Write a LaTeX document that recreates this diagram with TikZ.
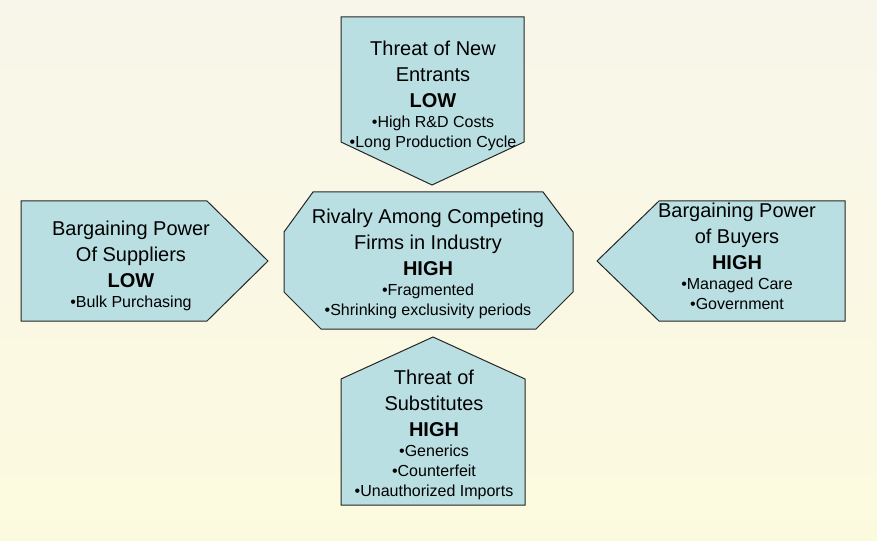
\documentclass[tikz,border=0pt]{standalone}
\usepackage{fontspec}
\setmainfont{Liberation Sans}
\usepackage{tikz}

\definecolor{forcefill}{RGB}{186,223,226}
\definecolor{paper}{RGB}{248,246,234}
\definecolor{paperlow}{RGB}{252,250,222}
\newcommand{\bulletline}[1]{{\fontsize{12}{15}\selectfont #1}}

\begin{document}
\begin{tikzpicture}[x=0.75pt,y=-0.75pt]
\tikzstyle{force}=[draw=black!85,fill=forcefill,line width=0.75pt]
\tikzstyle{forcetext}=[align=center,anchor=north,inner sep=0pt,font=\fontsize{15}{19.5}\selectfont]
\useasboundingbox (0,0) rectangle (877,541);
\shade[top color=paper,bottom color=paperlow] (0,0) rectangle (877,541);

% the five forces
\draw[force] (341,17) -- (524,17) -- (524,142) -- (432,185) -- (341,142) -- cycle;
\draw[force] (21,201) -- (207,201) -- (268,261) -- (207,321) -- (21,321) -- cycle;
\draw[force] (313,192) -- (543,192) -- (573,232) -- (573,292) -- (536,329) -- (321,329) -- (284,292) -- (284,232) -- cycle;
\draw[force] (597,261) -- (659,201) -- (845,201) -- (845,321) -- (659,321) -- cycle;
\draw[force] (433,337) -- (525,379) -- (525,505) -- (341,505) -- (341,379) -- cycle;

\node[forcetext] (entrants) at (433,40.5) {Threat of New\\Entrants\\\textbf{LOW}\\[-4.5pt]
  \bulletline{•High R\&D Costs}\\[-4.5pt]\bulletline{•Long Production Cycle}};
\node[forcetext] (suppliers) at (131,220.5) {Bargaining Power\\Of Suppliers\\\textbf{LOW}\\[-4.5pt]
  \bulletline{•Bulk Purchasing}};
\node[forcetext] (rivalry) at (428,208.5) {Rivalry Among Competing\\Firms in Industry\\\textbf{HIGH}\\[-4.5pt]
  \bulletline{•Fragmented}\\[-4.5pt]\bulletline{•Shrinking exclusivity periods}};
\node[forcetext] (buyers) at (737,202.5) {Bargaining Power\\of Buyers\\\textbf{HIGH}\\[-4.5pt]
  \bulletline{•Managed Care}\\[-4.5pt]\bulletline{•Government}};
\node[forcetext] (substitutes) at (434,369.5) {Threat of\\Substitutes\\\textbf{HIGH}\\[-4.5pt]
  \bulletline{•Generics}\\[-4.5pt]\bulletline{•Counterfeit}\\[-4.5pt]\bulletline{•Unauthorized Imports}};

\end{tikzpicture}
\end{document}
